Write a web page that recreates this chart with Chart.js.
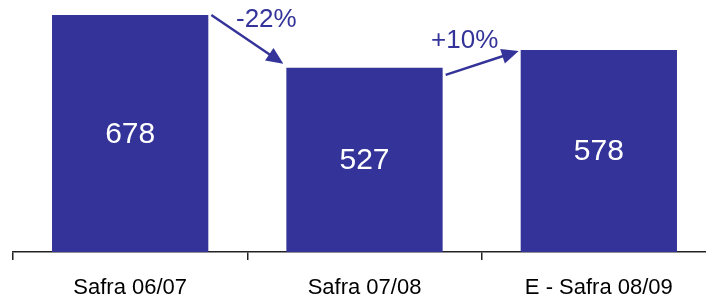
<!DOCTYPE html>
<html lang="pt">
<head>
  <meta charset="UTF-8">
  <title>Safra</title>
  <script src="https://cdn.jsdelivr.net/npm/chart.js@4/dist/chart.umd.min.js"></script>
  <style>
    html, body { margin: 0; padding: 0; background: #fff; overflow: hidden; }
    #chart { display: block; }
  </style>
</head>
<body>
  <canvas id="chart" width="716" height="297"></canvas>
  <script>
    const labels = ['Safra 06/07', 'Safra 07/08', 'E - Safra 08/09']
    const values = [678, 527, 578]
    const changes = ['-22%', '+10%']

    const blue = '#333399'

    // valores brancos dentro das barras + setas entre barras
    const annotations = {
      id: 'annotations',
      afterDatasetsDraw(chart) {
        const ctx = chart.ctx
        const bars = chart.getDatasetMeta(0).data
        ctx.save()
        ctx.fillStyle = '#fff'
        ctx.font = '30px "Liberation Sans", Arial, sans-serif'
        ctx.textAlign = 'center'
        ctx.textBaseline = 'middle'
        bars.forEach((b, i) => {
          ctx.fillText(values[i], b.x, (b.y + b.base) / 2 + 1)
        })

        const arrow = (x1, y1, x2, y2) => {
          const a = Math.atan2(y2 - y1, x2 - x1)
          const hl = 17, hw = 7.5
          const bx = x2 - hl * Math.cos(a), by = y2 - hl * Math.sin(a)
          ctx.strokeStyle = blue
          ctx.lineWidth = 2.4
          ctx.beginPath()
          ctx.moveTo(x1, y1)
          ctx.lineTo(bx + 4 * Math.cos(a), by + 4 * Math.sin(a))
          ctx.stroke()
          ctx.fillStyle = blue
          ctx.beginPath()
          ctx.moveTo(x2, y2)
          ctx.lineTo(bx - hw * Math.sin(a), by + hw * Math.cos(a))
          ctx.lineTo(bx + hw * Math.sin(a), by - hw * Math.cos(a))
          ctx.closePath()
          ctx.fill()
        }
        const half = b => b.width / 2
        const b0 = bars[0], b1 = bars[1], b2 = bars[2]
        arrow(b0.x + half(b0) + 3, b0.y, b1.x - half(b1) - 3, b1.y - 4)
        arrow(b1.x + half(b1) + 3, b1.y + 7, b2.x - half(b2) - 2, b2.y + 1)

        ctx.fillStyle = blue
        ctx.font = '26px "Liberation Sans", Arial, sans-serif'
        ctx.fillText(changes[0], (b0.x + half(b0) + b1.x - half(b1)) / 2 + 19, b0.y + 5)
        ctx.fillText(changes[1], (b1.x + half(b1) + b2.x - half(b2)) / 2 - 17, b2.y - 9)
        ctx.restore()
      }
    }

    new Chart(document.getElementById('chart'), {
      type: 'bar',
      data: {
        labels,
        datasets: [{
          data: values,
          backgroundColor: blue,
          borderWidth: 0,
          categoryPercentage: 1,
          barPercentage: 0.667
        }]
      },
      options: {
        responsive: false,
        animation: false,
        devicePixelRatio: 1,
        layout: { padding: { left: 13, right: 0, top: 0, bottom: 0 } },
        plugins: {
          legend: { display: false },
          tooltip: { enabled: false }
        },
        scales: {
          x: {
            afterFit(scale) { scale.height = 45 },
            grid: {
              offset: true,
              drawOnChartArea: false,
              drawTicks: true,
              tickLength: 8,
              color: '#222',
              lineWidth: 1.5
            },
            border: { display: true, color: '#222', width: 1.5 },
            ticks: {
              color: '#000',
              padding: 15,
              font: { family: '"Liberation Sans", Arial, sans-serif', size: 22 }
            }
          },
          y: {
            display: false,
            min: 0,
            max: 721
          }
        }
      },
      plugins: [annotations]
    })
  </script>
</body>
</html>
